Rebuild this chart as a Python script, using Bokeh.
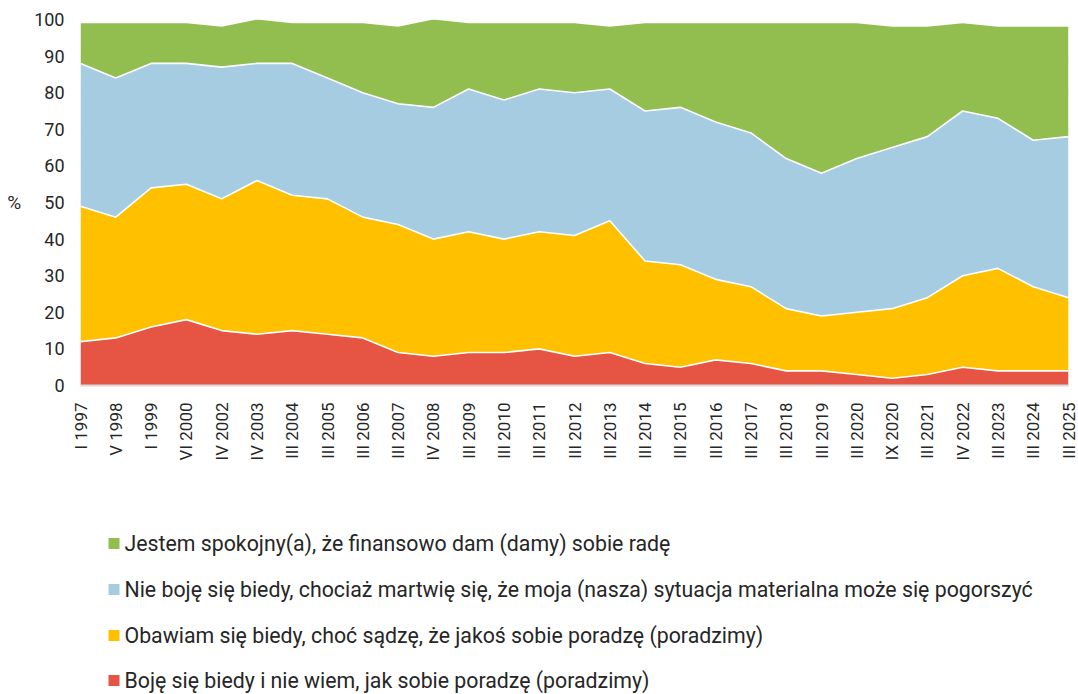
from bokeh.plotting import figure
from bokeh.models import Range1d, FixedTicker, ColumnDataSource
from bokeh.layouts import column
from bokeh.core.properties import value
from bokeh.embed import file_html
from bokeh.resources import INLINE
import numpy as np

categories = ["I 1997", "V 1998", "I 1999", "VI 2000", "IV 2002", "IV 2003", "III 2004", "III 2005",
              "III 2006", "III 2007", "IV 2008", "III 2009", "III 2010", "III 2011", "III 2012",
              "III 2013", "III 2014", "III 2015", "III 2016", "III 2017", "III 2018", "III 2019",
              "III 2020", "IX 2020", "III 2021", "IV 2022", "III 2023", "III 2024", "III 2025"]

red = [12, 13, 16, 18, 15, 14, 15, 14, 13, 9, 8, 9, 9, 10, 8, 9, 6, 5, 7, 6, 4, 4, 3, 2, 3, 5, 4, 4, 4]
yellow = [37, 33, 38, 37, 36, 42, 37, 37, 33, 35, 32, 33, 31, 32, 33, 36, 28, 28, 22, 21, 17, 15, 17, 19, 21, 25, 28, 23, 20]
blue = [39, 38, 34, 33, 36, 32, 36, 33, 34, 33, 36, 39, 38, 39, 39, 36, 41, 43, 43, 42, 41, 39, 42, 44, 44, 45, 41, 40, 44]
green = [11, 15, 11, 11, 11, 12, 11, 15, 19, 21, 24, 18, 21, 18, 19, 17, 24, 23, 27, 30, 37, 41, 37, 33, 30, 24, 25, 31, 30]

labels = [
    "Jestem spokojny(a), że finansowo dam (damy) sobie radę",
    "Nie boję się biedy, chociaż martwię się, że moja (nasza) sytuacja materialna może się pogorszyć",
    "Obawiam się biedy, choć sądzę, że jakoś sobie poradzę (poradzimy)",
    "Boję się biedy i nie wiem, jak sobie poradzę (poradzimy)",
]
colors_legend = ["#92BE50", "#A5CCE0", "#FFC000", "#E65444"]

y_ticks = list(range(0, 101, 10))

FONT = "Roboto"
TXT = "#262626"

x = list(range(len(categories)))
src = ColumnDataSource(dict(x=x, red=red, yellow=yellow, blue=blue, green=green))

W = 1078
H1 = 500
H2 = 194
BL, BR = 80, 10

p = figure(width=W, height=H1, output_backend="svg", toolbar_location=None,
           x_range=Range1d(0, len(categories) - 1), y_range=Range1d(0, 100),
           min_border_left=BL, min_border_right=BR, min_border_top=19, min_border_bottom=115)
p.outline_line_color = None

stack_names = ["red", "yellow", "blue", "green"]
stack_colors = ["#E65444", "#FFC000", "#A5CCE0", "#92BE50"]
p.varea_stack(stackers=stack_names, x="x", color=stack_colors, source=src)
p.vline_stack(stackers=stack_names[:3], x="x", color="white", line_width=1.6, source=src)

p.xgrid.visible = False
p.ygrid.grid_line_color = "#D9D9D9"
p.ygrid.grid_line_width = 1.5
p.ygrid.ticker = FixedTicker(ticks=y_ticks)

yax = p.yaxis[0]
yax.ticker = FixedTicker(ticks=y_ticks)
yax.axis_line_color = None
yax.major_tick_line_color = None
yax.minor_tick_line_color = None
yax.major_tick_out = 0
yax.major_label_standoff = 16
yax.major_label_text_font = FONT
yax.major_label_text_font_size = "18px"
yax.major_label_text_color = TXT
yax.axis_label = "%"
yax.axis_label_text_font = FONT
yax.axis_label_text_font_size = "19px"
yax.axis_label_text_font_style = "normal"
yax.axis_label_text_color = TXT
yax.axis_label_standoff = 10
try:
    yax.axis_label_orientation = "horizontal"
except Exception:
    pass

xax = p.xaxis[0]
xax.ticker = FixedTicker(ticks=x)
xax.major_label_overrides = {i: c for i, c in enumerate(categories)}
xax.major_label_orientation = np.pi / 2
xax.axis_line_color = "#D9D9D9"
xax.axis_line_width = 2
xax.major_tick_line_color = None
xax.minor_tick_line_color = None
xax.major_tick_out = 0
xax.major_label_standoff = 17
xax.major_label_text_font = FONT
xax.major_label_text_font_size = "17px"
xax.major_label_text_color = TXT

# legend figure: frame aligned with the chart's frame, ranges in page pixels
top = H1
lg = figure(width=W, height=H2, output_backend="svg", toolbar_location=None,
            x_axis_type=None, y_axis_type=None,
            x_range=Range1d(BL, W - BR), y_range=Range1d(top + H2, top),
            min_border_left=BL, min_border_right=BR, min_border_top=0, min_border_bottom=0)
lg.grid.visible = False
lg.outline_line_color = None
ly = [543, 589, 635, 680]
lsrc = ColumnDataSource(dict(y=ly, c=colors_legend, t=labels, xs=[113.5] * 4, xt=[124] * 4))
lg.rect(x="xs", y="y", width=11, height=11, fill_color="c", line_color=None, source=lsrc)
lg.text(x="xt", y="y", text="t", text_font=value(FONT), text_font_size="21.3px", text_color=TXT,
        text_baseline="middle", text_align="left", source=lsrc)

layout = column(p, lg, spacing=0)
open("out.html", "w").write(file_html(layout, INLINE))
